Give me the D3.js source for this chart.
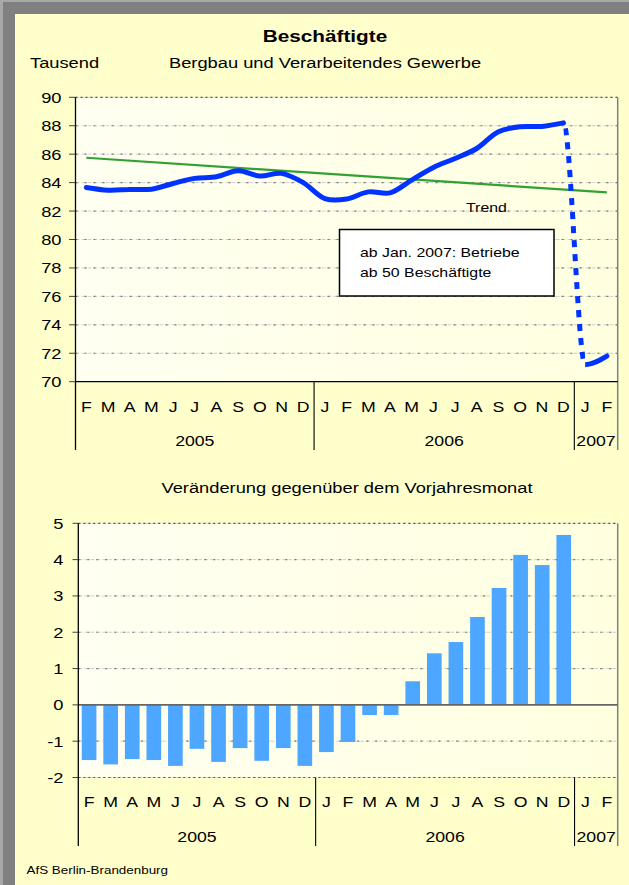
<!DOCTYPE html>
<html>
<head>
<meta charset="utf-8">
<script src="https://cdn.jsdelivr.net/npm/d3@7"></script>
<style>
  html, body { margin: 0; padding: 0; background: #ffffcc; }
  svg { display: block; }
  text { font-family: "Liberation Sans", Arial, sans-serif; fill: #000; }
</style>
</head>
<body>
<svg id="chart" width="629" height="885"></svg>
<script>
// ---------- data ----------
const months = ["F","M","A","M","J","J","A","S","O","N","D","J","F","M","A","M","J","J","A","S","O","N","D","J","F"];
const yearLabels = ["2005", "2006", "2007"];
const yearStarts = [0, 11, 23];           // category index where each year begins
const employees = [83.66, 83.47, 83.52, 83.54, 83.94, 84.30, 84.41, 84.83, 84.46, 84.65, 84.00, 82.88,
                   82.85, 83.35, 83.28, 84.18, 85.07, 85.70, 86.40, 87.58, 87.93, 87.95, 88.20,
                   71.20, 71.80];
const trendValues = [85.75, 83.31];       // trend line at first and last category
const changes = [-1.52, -1.64, -1.49, -1.52, -1.68, -1.21, -1.57, -1.19, -1.54, -1.19, -1.68, -1.30,
                 -1.02, -0.28, -0.28, 0.65, 1.42, 1.73, 2.42, 3.22, 4.13, 3.85, 4.68, null, null];
const yTicksTop = [70, 72, 74, 76, 78, 80, 82, 84, 86, 88, 90];
const yTicksBottom = [-2, -1, 0, 1, 2, 3, 4, 5];

// ---------- helpers ----------
const SX = 1.22;
const svg = d3.select("#chart");
function txt(g, x, y, s, size, anchor, weight) {
  return g.append("text")
    .attr("transform", `translate(${x},${y}) scale(${SX},1)`)
    .attr("text-anchor", anchor || "start")
    .style("font-size", size + "px")
    .style("font-weight", weight || "normal")
    .text(s);
}
function gridLine(g, x0, x1, y, dark) {
  g.append("line").attr("x1", x0).attr("x2", x1).attr("y1", y).attr("y2", y)
    .attr("stroke", "#d0d0d0").attr("stroke-width", 1).attr("stroke-dasharray", "4,2");
  g.append("line").attr("x1", x0).attr("x2", x1).attr("y1", y).attr("y2", y)
    .attr("stroke", dark ? "#555" : "#777").attr("stroke-width", 1.2).attr("stroke-dasharray", dark ? "2,3" : "2,7");
}

// ---------- frame ----------
svg.append("rect").attr("x", 0).attr("y", 0).attr("width", 629).attr("height", 885).attr("fill", "#a8a8a8");
svg.append("rect").attr("x", 3).attr("y", 2).attr("width", 626).attr("height", 883).attr("fill", "#808080");
svg.append("rect").attr("x", 15).attr("y", 14).attr("width", 614).attr("height", 871).attr("fill", "#ffffcc");

const defs = svg.append("defs");
const grad = defs.append("linearGradient").attr("id", "plotbg").attr("x1", 0).attr("x2", 1).attr("y1", 0).attr("y2", 0);
grad.append("stop").attr("offset", "0%").attr("stop-color", "#fffff2");
grad.append("stop").attr("offset", "100%").attr("stop-color", "#ffffe0");

// ---------- titles ----------
txt(svg, 325, 42, "Beschäftigte", 17, "middle", "bold");
txt(svg, 30, 67.5, "Tausend", 15, "start");
txt(svg, 325, 67.5, "Bergbau und Verarbeitendes Gewerbe", 15, "middle");

// ---------- top chart ----------
const gTop = svg.append("g");
const x1 = d3.scaleBand().domain(d3.range(months.length)).range([75.5, 617.7]);
const y1 = d3.scaleLinear().domain([70, 90]).range([381.7, 97.3]);
const cx1 = i => x1(i) + x1.bandwidth() / 2;
const tL = x1.range()[0], tR = x1.range()[1];

gTop.append("rect").attr("x", tL).attr("y", y1(90)).attr("width", tR - tL).attr("height", y1(70) - y1(90))
  .attr("fill", "url(#plotbg)");
yTicksTop.filter(v => v > 70).forEach(v => gridLine(gTop, tL, tR, y1(v), v === 90));
gTop.append("line").attr("x1", tR).attr("x2", tR).attr("y1", y1(90)).attr("y2", 450)
  .attr("stroke", "#808080").attr("stroke-width", 1.5);
yTicksTop.forEach(v => {
  gTop.append("line").attr("x1", 69).attr("x2", tL).attr("y1", y1(v)).attr("y2", y1(v))
    .attr("stroke", "#444").attr("stroke-width", 1);
  txt(gTop, 61.5, y1(v) + 5.5, String(v), 15, "end");
});
gTop.append("line").attr("x1", tL).attr("x2", tL).attr("y1", y1(90)).attr("y2", 450).attr("stroke", "#000").attr("stroke-width", 1.3);
gTop.append("line").attr("x1", tL).attr("x2", tR).attr("y1", y1(70)).attr("y2", y1(70)).attr("stroke", "#000").attr("stroke-width", 1.3);
yearStarts.slice(1).forEach(s => {
  gTop.append("line").attr("x1", x1(s)).attr("x2", x1(s)).attr("y1", y1(70)).attr("y2", 450)
    .attr("stroke", "#000").attr("stroke-width", 1.1);
});
months.forEach((m, i) => txt(gTop, cx1(i), 411.5, m, 14.5, "middle"));
yearLabels.forEach((yl, k) => {
  const a = x1(yearStarts[k]);
  const b = k + 1 < yearStarts.length ? x1(yearStarts[k + 1]) : tR;
  txt(gTop, (a + b) / 2, 445.5, yl, 14.5, "middle");
});

// trend
gTop.append("line")
  .attr("x1", cx1(0)).attr("y1", y1(trendValues[0]))
  .attr("x2", cx1(months.length - 1)).attr("y2", y1(trendValues[1]))
  .attr("stroke", "#33a033").attr("stroke-width", 2.2);
txt(gTop, 466, 211.5, "Trend", 13, "start");

// employee line: smoothed solid part, dotted drop, solid 2007 part
const pts = employees.map((v, i) => ({ i, v }));
const smoothCR = d3.line().x(d => cx1(d.i)).y(d => y1(d.v)).curve(d3.curveCatmullRom.alpha(0.5));
const smoothMX = d3.line().x(d => cx1(d.i)).y(d => y1(d.v)).curve(d3.curveMonotoneX);
const dPath = smoothMX(pts);
const clips = [[cx1(22), cx1(23)], [cx1(23), 629]];
clips.forEach((c, k) => {
  defs.append("clipPath").attr("id", "lc" + k).append("rect")
    .attr("x", c[0]).attr("y", 0).attr("width", c[1] - c[0]).attr("height", 885);
});
gTop.append("path").attr("d", smoothCR(pts.slice(0, 23)))
  .attr("fill", "none").attr("stroke", "#0033ff").attr("stroke-width", 5).attr("stroke-linecap", "round");
gTop.append("path").attr("d", smoothMX(pts.slice(21, 25))).attr("clip-path", "url(#lc0)")
  .attr("fill", "none").attr("stroke", "#0033ff").attr("stroke-width", 5).attr("stroke-dasharray", "7,7");
gTop.append("path").attr("d", dPath).attr("clip-path", "url(#lc1)")
  .attr("fill", "none").attr("stroke", "#0033ff").attr("stroke-width", 5).attr("stroke-linecap", "round");

// note box
gTop.append("rect").attr("x", 339.5).attr("y", 229.5).attr("width", 214.5).attr("height", 66.5)
  .attr("fill", "#ffffff").attr("stroke", "#000").attr("stroke-width", 1.5);
txt(gTop, 360, 256.5, "ab Jan. 2007: Betriebe", 13, "start");
txt(gTop, 360, 277, "ab 50 Beschäftigte", 13, "start");

// ---------- bottom chart ----------
const gBot = svg.append("g");
txt(gBot, 347, 493, "Veränderung gegenüber dem Vorjahresmonat", 15, "middle");
const x2 = d3.scaleBand().domain(d3.range(months.length)).range([78.3, 617.7]).paddingInner(0.32).paddingOuter(0.16);
const y2 = d3.scaleLinear().domain([-2, 5]).range([777.5, 523.3]);
const bL = x2.range()[0], bR = x2.range()[1];
const cx2 = i => x2(i) + x2.bandwidth() / 2;
const step2 = x2.step();

gBot.append("rect").attr("x", bL).attr("y", y2(5)).attr("width", bR - bL).attr("height", y2(-2) - y2(5))
  .attr("fill", "url(#plotbg)");
yTicksBottom.filter(v => v !== 0).forEach(v => gridLine(gBot, bL, bR, y2(v), v === 5 || v === -2));
gBot.append("line").attr("x1", bR).attr("x2", bR).attr("y1", y2(5)).attr("y2", 846)
  .attr("stroke", "#808080").attr("stroke-width", 1.5);

gBot.selectAll("rect.bar").data(changes.map((v, i) => ({ i, v })).filter(d => d.v !== null))
  .enter().append("rect").attr("class", "bar")
  .attr("x", d => x2(d.i)).attr("width", x2.bandwidth())
  .attr("y", d => y2(Math.max(0, d.v))).attr("height", d => Math.abs(y2(d.v) - y2(0)))
  .attr("fill", "#4da6ff");

gBot.append("line").attr("x1", bL).attr("x2", bR).attr("y1", y2(0)).attr("y2", y2(0))
  .attr("stroke", "#666").attr("stroke-width", 1.6);

yTicksBottom.forEach(v => {
  gBot.append("line").attr("x1", 72.5).attr("x2", bL).attr("y1", y2(v)).attr("y2", y2(v))
    .attr("stroke", "#444").attr("stroke-width", 1);
  txt(gBot, 63.5, y2(v) + 5.5, String(v), 15, "end");
});
gBot.append("line").attr("x1", bL).attr("x2", bL).attr("y1", y2(5)).attr("y2", 846).attr("stroke", "#000").attr("stroke-width", 1.3);
yearStarts.slice(1).forEach(s => {
  const xs = bL + s * step2;
  gBot.append("line").attr("x1", xs).attr("x2", xs).attr("y1", y2(-2)).attr("y2", 846)
    .attr("stroke", "#000").attr("stroke-width", 1.1);
});
months.forEach((m, i) => txt(gBot, cx2(i), 807.3, m, 14.5, "middle"));
yearLabels.forEach((yl, k) => {
  const a = bL + yearStarts[k] * step2;
  const b = k + 1 < yearStarts.length ? bL + yearStarts[k + 1] * step2 : bR;
  txt(gBot, (a + b) / 2, 842, yl, 14.5, "middle");
});

// footer
txt(svg, 26.5, 874, "AfS Berlin-Brandenburg", 11, "start");
</script>
</body>
</html>
